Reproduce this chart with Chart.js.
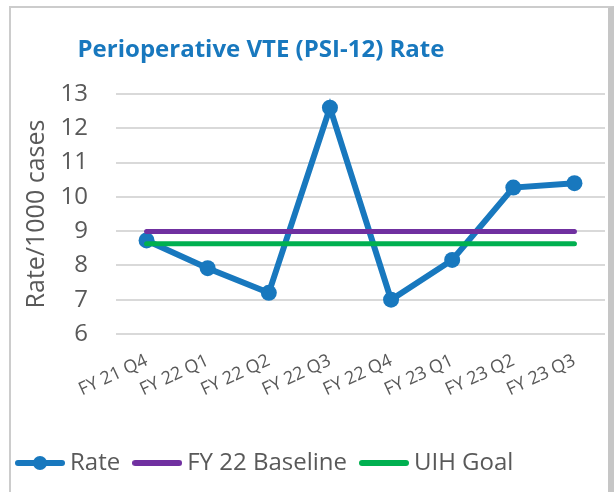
<!DOCTYPE html>
<html>
<head>
<meta charset="utf-8">
<script src="https://cdn.jsdelivr.net/npm/chart.js@4.4.1/dist/chart.umd.min.js"></script>
<style>
  html, body { margin: 0; padding: 0; background: #fff; overflow: hidden; }
  #wrap { position: relative; width: 614px; height: 492px; }
  #frame {
    position: absolute; left: 9px; top: 6px; right: 0; bottom: -10px;
    border-top: 2px solid #cccccc; border-left: 2px solid #cccccc;
    border-right: 6px solid #c6c6c6; box-sizing: border-box; pointer-events: none;
  }
</style>
</head>
<body>
<div id="wrap">
  <canvas id="chart" width="614" height="492"></canvas>
  <div id="frame"></div>
</div>
<script>
// chart data
const quarters = ['FY 21 Q4', 'FY 22 Q1', 'FY 22 Q2', 'FY 22 Q3', 'FY 22 Q4', 'FY 23 Q1', 'FY 23 Q2', 'FY 23 Q3'];
const rateValues = [8.73, 7.92, 7.2, 12.6, 7.0, 8.16, 10.27, 10.4];
const baselineValues = [8.99, 8.99, 8.99, 8.99, 8.99, 8.99, 8.99, 8.99];
const goalValues = [8.63, 8.63, 8.63, 8.63, 8.63, 8.63, 8.63, 8.63];
const yTicks = [6, 7, 8, 9, 10, 11, 12, 13];

const BLUE = '#1878be';
const PURPLE = '#7030a0';
const GREEN = '#00b050';
const TEXT = '#595959';
const FONT = "'Open Sans', sans-serif";

// legend icons (line, and line with marker)
function lineIcon(color, withDot) {
  const c = document.createElement('canvas');
  c.width = 50; c.height = 16;
  const g = c.getContext('2d');
  g.strokeStyle = color;
  g.lineWidth = 6;
  g.lineCap = 'round';
  g.beginPath();
  g.moveTo(3, 8); g.lineTo(47, 8);
  g.stroke();
  if (withDot) {
    g.fillStyle = color;
    g.beginPath();
    g.arc(25, 8, 7, 0, Math.PI * 2);
    g.fill();
  }
  return c;
}
const legendIcons = [lineIcon(BLUE, true), lineIcon(PURPLE, false), lineIcon(GREEN, false)];

// title drawn left of centre, like the original
const titlePlugin = {
  id: 'titlePlugin',
  afterDraw(chart) {
    const ctx = chart.ctx;
    ctx.save();
    ctx.font = "bold 24px " + FONT;
    ctx.fillStyle = BLUE;
    ctx.textAlign = 'center';
    ctx.textBaseline = 'alphabetic';
    ctx.fillText('Perioperative VTE (PSI-12) Rate', 261, 57);
    ctx.restore();
  }
};

new Chart(document.getElementById('chart'), {
  type: 'line',
  data: {
    labels: quarters,
    datasets: [
      {
        label: 'Rate',
        data: rateValues,
        borderColor: BLUE,
        backgroundColor: BLUE,
        borderWidth: 6,
        pointRadius: 8,
        pointBackgroundColor: BLUE,
        pointBorderWidth: 0,
        tension: 0,
        order: 3
      },
      {
        label: 'FY 22 Baseline',
        data: baselineValues,
        borderColor: PURPLE,
        backgroundColor: PURPLE,
        borderWidth: 5,
        borderCapStyle: 'round',
        pointRadius: 0,
        order: 2
      },
      {
        label: 'UIH Goal',
        data: goalValues,
        borderColor: GREEN,
        backgroundColor: GREEN,
        borderWidth: 5,
        borderCapStyle: 'round',
        pointRadius: 0,
        order: 1
      }
    ]
  },
  options: {
    responsive: false,
    animation: false,
    layout: { padding: { top: 94, left: 3, right: 9, bottom: 7 } },
    plugins: {
      title: { display: false },
      tooltip: { enabled: false },
      legend: {
        position: 'bottom',
        align: 'start',
        labels: {
          usePointStyle: true,
          pointStyleWidth: 36,
          boxHeight: 16,
          padding: 19,
          color: TEXT,
          font: { family: FONT, size: 24 },
          sort: (a, b) => a.datasetIndex - b.datasetIndex,
          generateLabels(chart) {
            const items = Chart.defaults.plugins.legend.labels.generateLabels(chart);
            items.forEach(item => { item.pointStyle = legendIcons[item.datasetIndex]; });
            return items;
          }
        }
      }
    },
    scales: {
      x: {
        offset: true,
        grid: { display: false },
        border: { display: false },
        ticks: {
          color: TEXT,
          font: { family: FONT, size: 18 },
          minRotation: 25,
          maxRotation: 25,
          padding: 8
        },
        afterFit(scale) { scale.height = 98; }
      },
      y: {
        min: 6,
        max: 13,
        afterBuildTicks(scale) { scale.ticks = yTicks.map(v => ({ value: v })); },
        grid: { color: '#d9d9d9', lineWidth: 2, drawTicks: false },
        border: { display: false },
        ticks: {
          color: TEXT,
          font: { family: FONT, size: 24 },
          padding: 28
        },
        title: {
          display: true,
          text: 'Rate/1000 cases',
          color: TEXT,
          font: { family: FONT, size: 25 },
          padding: { top: 19, bottom: 0 }
        },
        afterFit(scale) { scale.width = 113; }
      }
    }
  },
  plugins: [titlePlugin]
});
</script>
</body>
</html>
